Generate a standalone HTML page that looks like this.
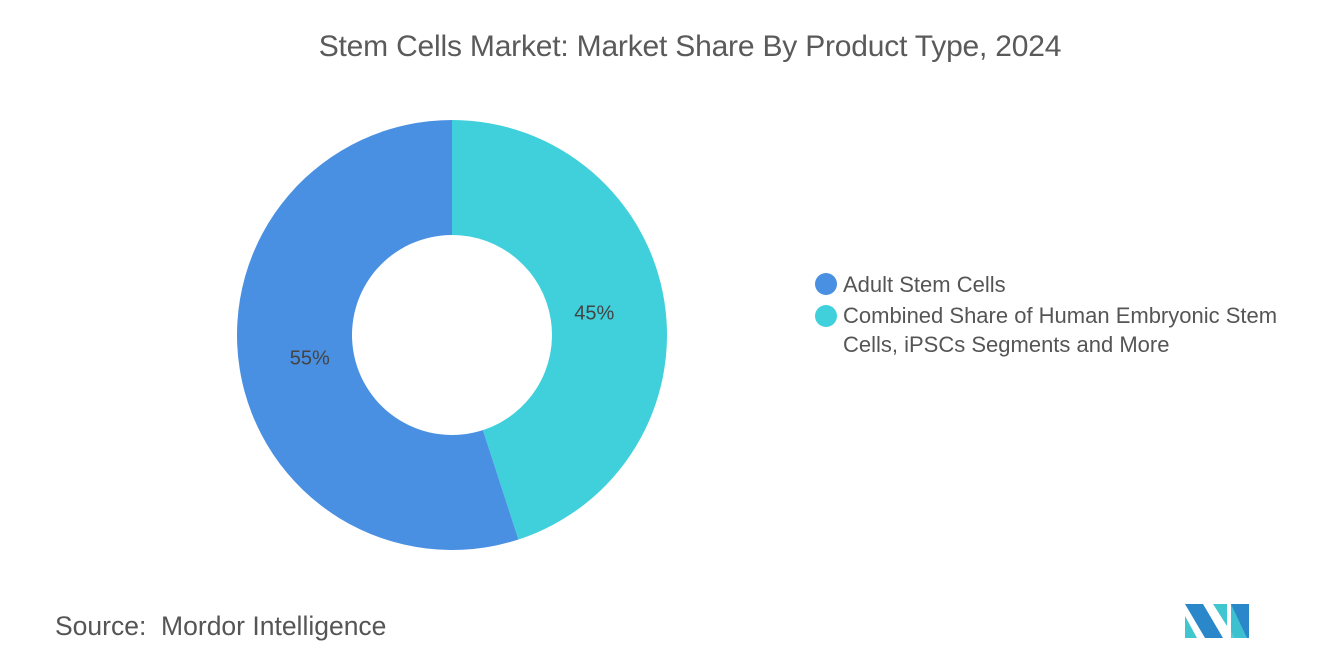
<!DOCTYPE html>
<html><head><meta charset="utf-8"><style>
body{margin:0;width:1320px;height:665px;background:#fff;font-family:"Liberation Sans",sans-serif;overflow:hidden;position:relative}
.t{position:absolute;color:#555}
</style></head><body>
<div class="t" style="left:0;width:1380px;top:30px;text-align:center;font-size:30px;color:#5a5a5a;letter-spacing:-0.2px">Stem Cells Market: Market Share By Product Type, 2024</div>
<svg id="c" width="1320" height="665" style="position:absolute;left:0;top:0"></svg>
<div style="position:absolute;left:815px;top:270px;font-size:22px;color:#555;line-height:29px">
<div style="position:relative;padding-left:28px"><span style="position:absolute;left:0;top:3px;width:22px;height:22px;border-radius:50%;background:#4a90e2"></span>Adult Stem Cells</div>
<div style="position:relative;padding-left:28px;margin-top:2px"><span style="position:absolute;left:0;top:4px;width:22px;height:22px;border-radius:50%;background:#3fd0db"></span>Combined Share of Human Embryonic Stem<br>Cells, iPSCs Segments and More</div>
</div>
<div class="t" style="left:55px;top:611px;font-size:26.5px;color:#555">Source:&nbsp; Mordor Intelligence</div>
<svg width="70" height="40" style="position:absolute;left:1183px;top:601px">
<polygon points="2,3 20,3 40,37 22,37" fill="#2a87c9"/><polygon points="2,15 14,37 2,37" fill="#3fc6cf"/>
<polygon points="30,3 44,3 44,25" fill="#3fc6cf"/><polygon points="48,3 66,3 66,37 52,37 48,30" fill="#2a87c9"/><polygon points="48,3 64,37 48,37" fill="#3fc6cf" opacity="0.9"/>
</svg>
<script>
const categories=["Adult Stem Cells","Combined Share of Human Embryonic Stem Cells, iPSCs Segments and More"];
const values=[55,45];
const labels=["55%","45%"];
const colors=["#4a90e2","#3fd0db"];
const svg=document.getElementById('c'),NS="http://www.w3.org/2000/svg";
const cx=452,cy=335,R=215,r=100,LR=144;
const total=values.reduce((a,b)=>a+b,0);
function pt(a,rad){return [cx+rad*Math.sin(a),cy-rad*Math.cos(a)];}
let order=[1,0];let start=0;
order.forEach(i=>{
const sweep=values[i]/total*2*Math.PI,end=start+sweep;
const [x1,y1]=pt(start,R),[x2,y2]=pt(end,R),[x3,y3]=pt(end,r),[x4,y4]=pt(start,r);
const lg=sweep>Math.PI?1:0;
const p=document.createElementNS(NS,'path');
p.setAttribute('d',`M${x1},${y1}A${R},${R} 0 ${lg} 1 ${x2},${y2}L${x3},${y3}A${r},${r} 0 ${lg} 0 ${x4},${y4}Z`);
p.setAttribute('fill',colors[i]);


svg.appendChild(p);
const mid=start+sweep/2,[lx,ly]=pt(mid,LR);
const t=document.createElementNS(NS,'text');
t.setAttribute('x',lx);t.setAttribute('y',ly+7);t.setAttribute('text-anchor','middle');
t.setAttribute('font-size','20');t.setAttribute('fill','#444');t.setAttribute('font-family','Liberation Sans, sans-serif');
t.textContent=labels[i];


svg.appendChild(t);
start=end;
});
</script>
</body></html>
